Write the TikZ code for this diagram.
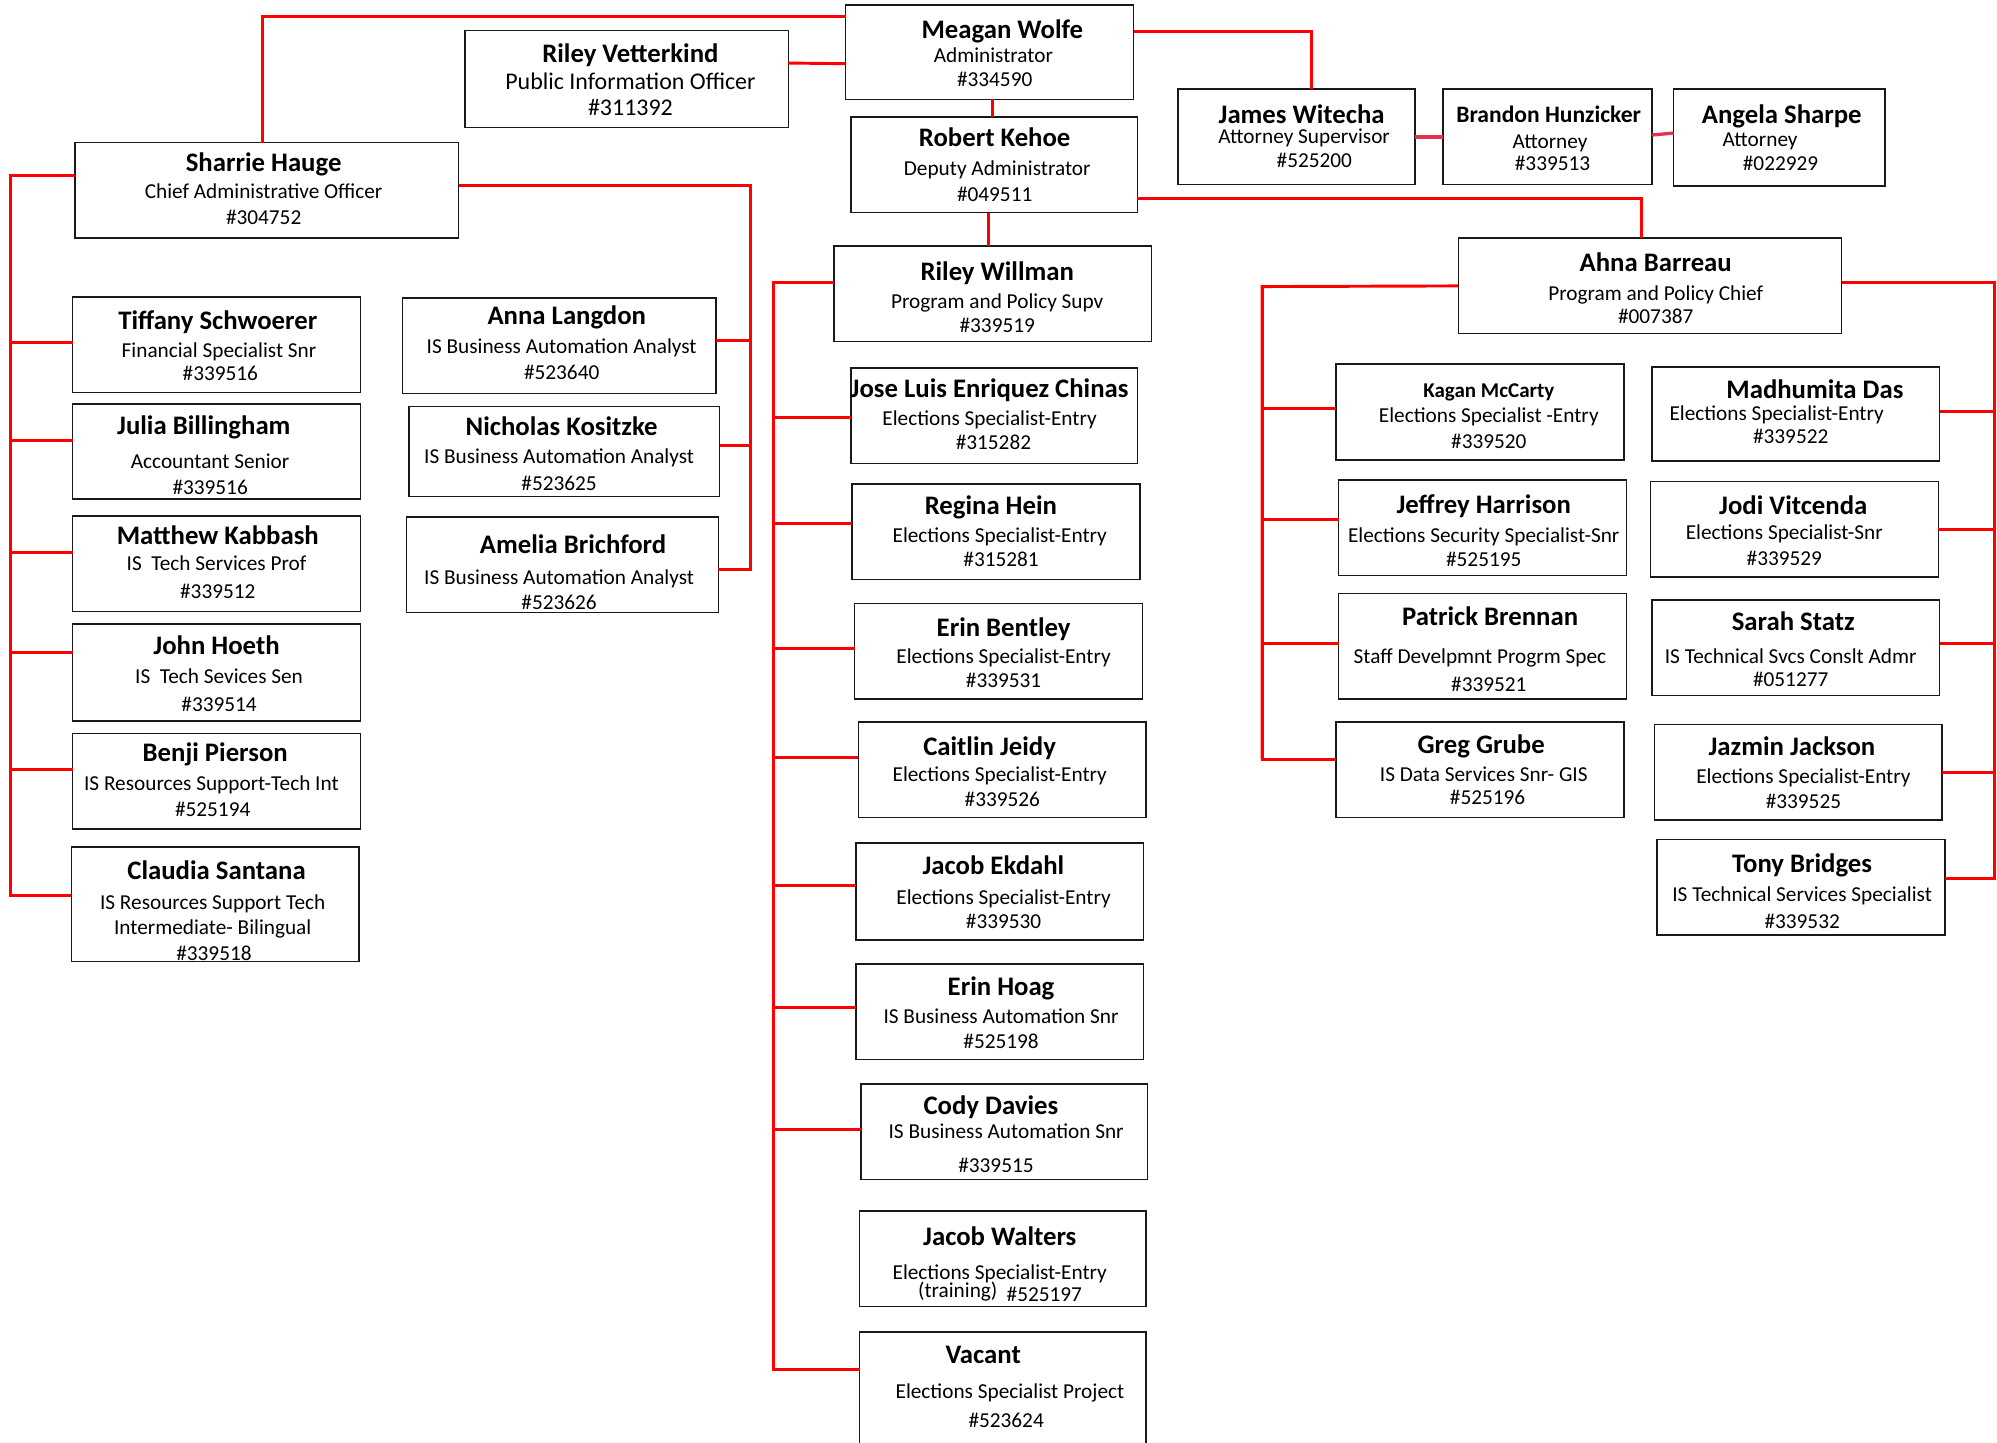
\documentclass[tikz,border=0pt]{standalone}
\usepackage{fontspec}
\setmainfont{Carlito}
\newcommand\obox[5]{\node[bx,minimum width={(#4)-(#2)},minimum height={(#5)-(#3)}] (#1) at ({((#2)+(#4))/2},{((#3)+(#5))/2}) {};}
\newcommand\otext[5]{\node[#1] (#2) at (#3,#4) {#5};}
\begin{document}
\begin{tikzpicture}[x=1pt,y=-1pt,
 bx/.style={draw=black!90,line width=1.2pt,inner sep=0pt,outer sep=0pt},
 txt/.style={anchor=mid,inner sep=0pt,yshift=-4.5pt},
 nm/.style={txt,font=\fontsize{21}{24}\selectfont\bfseries},
 nms/.style={txt,font=\fontsize{18.5}{22}\selectfont\bfseries},
 nmx/.style={txt,font=\fontsize{16.5}{20}\selectfont\bfseries},
 tt/.style={txt,font=\fontsize{16.7}{20}\selectfont},
 tb/.style={txt,font=\fontsize{18.8}{22}\selectfont},
 rl/.style={draw=red,line width=2.3pt},
 pl/.style={draw={rgb,255:red,226;green,50;blue,80},line width=2.6pt}]
\useasboundingbox (0,0) rectangle (1568,1133);
% ---------------- boxes ----------------
\obox{wolfe}{664}{4}{890}{78}
\otext{nm}{wolfe1}{787}{23}{Meagan Wolfe}
\otext{tt}{wolfe2}{780}{42}{Administrator}
\otext{tt}{wolfe3}{781}{61}{\#334590}

\obox{vett}{365}{24}{619}{100}
\otext{nm}{vett1}{495}{42}{Riley Vetterkind}
\otext{tb}{vett2}{495}{63}{Public Information Officer}
\otext{tb}{vett3}{495}{84}{\#311392}

\obox{kehoe}{668}{92}{893}{167}
\otext{nm}{kehoe1}{781}{108}{Robert Kehoe}
\otext{tt}{kehoe2}{783}{131}{Deputy Administrator}
\otext{tt}{kehoe3}{781}{151}{\#049511}

\obox{witecha}{925}{70}{1111}{145}
\otext{nm}{witecha1}{1022}{90}{James Witecha}
\otext{tt}{witecha2}{1024}{106}{Attorney Supervisor}
\otext{tt}{witecha3}{1032}{125}{\#525200}

\obox{brandon}{1133}{70}{1297}{145}
\otext{nms}{brandon1}{1216}{89}{Brandon Hunzicker}
\otext{tt}{brandon2}{1217}{110}{Attorney}
\otext{tt}{brandon3}{1219}{127}{\#339513}

\obox{angela}{1314}{70}{1480}{146}
\otext{nm}{angela1}{1399}{90}{Angela Sharpe}
\otext{tt}{angela2}{1382}{108}{Attorney}
\otext{tt}{angela3}{1398}{127}{\#022929}

\obox{sharrie}{59}{112}{360}{187}
\otext{nm}{sharrie1}{207}{128}{Sharrie Hauge}
\otext{tt}{sharrie2}{207}{149}{Chief Administrative Officer}
\otext{tt}{sharrie3}{207}{169}{\#304752}

\obox{tiffany}{57}{233}{283}{308}
\otext{nm}{tiffany1}{171}{252}{Tiffany Schwoerer}
\otext{tt}{tiffany2}{172}{274}{Financial Specialist Snr}
\otext{tt}{tiffany3}{173}{292}{\#339516}

\obox{julia}{57}{317}{283}{392}
\otext{nm}{julia1}{160}{334}{Julia Billingham}
\otext{tt}{julia2}{165}{361}{Accountant Senior}
\otext{tt}{julia3}{165}{381}{\#339516}

\obox{matthew}{57}{405}{283}{480}
\otext{nm}{matthew1}{171}{421}{Matthew Kabbash}
\otext{tt}{matthew2}{170}{441}{IS\ \ Tech Services Prof}
\otext{tt}{matthew3}{171}{463}{\#339512}

\obox{john}{57}{490}{283}{566}
\otext{nm}{john1}{170}{507}{John Hoeth}
\otext{tt}{john2}{172}{530}{IS\ \ Tech Sevices Sen}
\otext{tt}{john3}{172}{552}{\#339514}

\obox{benji}{57}{576}{283}{651}
\otext{nm}{benji1}{169}{591}{Benji Pierson}
\otext{tt}{benji2}{166}{614}{IS Resources Support-Tech Int}
\otext{tt}{benji3}{167}{634}{\#525194}

\obox{claudia}{56}{665}{282}{755}
\otext{nm}{claudia1}{170}{684}{Claudia Santana}
\otext{tt}{claudia2}{167}{707}{IS Resources Support Tech}
\otext{tt}{claudia3}{167}{727}{Intermediate- Bilingual}
\otext{tt}{claudia4}{168}{747}{\#339518}

\obox{anna}{316}{234}{562}{309}
\otext{nm}{anna1}{445}{248}{Anna Langdon}
\otext{tt}{anna2}{441}{271}{IS Business Automation Analyst}
\otext{tt}{anna3}{441}{291}{\#523640}

\obox{nicholas}{321}{319}{565}{390}
\otext{nm}{nicholas1}{441}{335}{Nicholas Kositzke}
\otext{tt}{nicholas2}{439}{357}{IS Business Automation Analyst}
\otext{tt}{nicholas3}{439}{378}{\#523625}

\obox{amelia}{319}{406}{564}{481}
\otext{nm}{amelia1}{450}{428}{Amelia Brichford}
\otext{tt}{amelia2}{439}{452}{IS Business Automation Analyst}
\otext{tt}{amelia3}{439}{472}{\#523626}

\obox{willman}{655}{193}{904}{268}
\otext{nm}{willman1}{783}{213}{Riley Willman}
\otext{tt}{willman2}{783}{235}{Program and Policy Supv}
\otext{tt}{willman3}{783}{254}{\#339519}

\obox{jose}{668}{289}{893}{364}
\otext{nm}{jose1}{777}{305}{Jose Luis Enriquez Chinas}
\otext{tt}{jose2}{777}{327}{Elections Specialist-Entry}
\otext{tt}{jose3}{780}{346}{\#315282}

\obox{regina}{669}{380}{895}{455}
\otext{nm}{regina1}{778}{397}{Regina Hein}
\otext{tt}{regina2}{785}{419}{Elections Specialist-Entry}
\otext{tt}{regina3}{786}{438}{\#315281}

\obox{bentley}{671}{474}{897}{549}
\otext{nm}{bentley1}{788}{493}{Erin Bentley}
\otext{tt}{bentley2}{788}{514}{Elections Specialist-Entry}
\otext{tt}{bentley3}{788}{533}{\#339531}

\obox{caitlin}{674}{567}{900}{642}
\otext{nm}{caitlin1}{777}{586}{Caitlin Jeidy}
\otext{tt}{caitlin2}{785}{607}{Elections Specialist-Entry}
\otext{tt}{caitlin3}{787}{626}{\#339526}

\obox{ekdahl}{672}{662}{898}{738}
\otext{nm}{ekdahl1}{780}{680}{Jacob Ekdahl}
\otext{tt}{ekdahl2}{788}{703}{Elections Specialist-Entry}
\otext{tt}{ekdahl3}{788}{722}{\#339530}

\obox{hoag}{672}{757}{898}{832}
\otext{nm}{hoag1}{786}{775}{Erin Hoag}
\otext{tt}{hoag2}{786}{797}{IS Business Automation Snr}
\otext{tt}{hoag3}{786}{816}{\#525198}

\obox{cody}{676}{851}{901}{926}
\otext{nm}{cody1}{778}{868}{Cody Davies}
\otext{tt}{cody2}{790}{887}{IS Business Automation Snr}
\otext{tt}{cody3}{782}{914}{\#339515}

\obox{walters}{675}{951}{900}{1026}
\otext{nm}{walters1}{785}{971}{Jacob Walters}
\otext{tt}{walters2}{785}{998}{Elections Specialist-Entry}
\otext{tt}{walters3}{752}{1012}{(training)}
\otext{tt}{walters4}{820}{1015}{\#525197}

\obox{vacant}{675}{1046}{900}{1140}
\otext{nm}{vacant1}{772}{1064}{Vacant}
\otext{tt}{vacant2}{793}{1091}{Elections Specialist Project}
\otext{tt}{vacant3}{790}{1114}{\#523624}

\obox{ahna}{1145}{187}{1446}{262}
\otext{nm}{ahna1}{1300}{206}{Ahna Barreau}
\otext{tt}{ahna2}{1300}{229}{Program and Policy Chief}
\otext{tt}{ahna3}{1300}{247}{\#007387}

\obox{kagan}{1049}{286}{1275}{361}
\otext{nmx}{kagan1}{1169}{305}{Kagan McCarty}
\otext{tt}{kagan2}{1169}{325}{Elections Specialist -Entry}
\otext{tt}{kagan3}{1169}{345}{\#339520}

\obox{madhu}{1297}{288}{1523}{362}
\otext{nm}{madhu1}{1425}{306}{Madhumita Das}
\otext{tt}{madhu2}{1395}{323}{Elections Specialist-Entry}
\otext{tt}{madhu3}{1406}{341}{\#339522}

\obox{jeffrey}{1051}{377}{1277}{452}
\otext{nm}{jeffrey1}{1165}{396}{Jeffrey Harrison}
\otext{tt}{jeffrey2}{1165}{419}{Elections Security Specialist-Snr}
\otext{tt}{jeffrey3}{1165}{438}{\#525195}

\obox{jodi}{1296}{378}{1522}{453}
\otext{nm}{jodi1}{1408}{397}{Jodi Vitcenda}
\otext{tt}{jodi2}{1401}{417}{Elections Specialist-Snr}
\otext{tt}{jodi3}{1401}{437}{\#339529}

\obox{patrick}{1051}{466}{1277}{549}
\otext{nm}{patrick1}{1170}{484}{Patrick Brennan}
\otext{tt}{patrick2}{1162}{514}{Staff Develpmnt Progrm Spec}
\otext{tt}{patrick3}{1169}{536}{\#339521}

\obox{sarah}{1297}{471}{1523}{546}
\otext{nm}{sarah1}{1408}{488}{Sarah Statz}
\otext{tt}{sarah2}{1406}{514}{IS Technical Svcs Conslt Admr}
\otext{tt}{sarah3}{1406}{532}{\#051277}

\obox{greg}{1049}{567}{1275}{642}
\otext{nm}{greg1}{1163}{585}{Greg Grube}
\otext{tt}{greg2}{1165}{607}{IS Data Services Snr- GIS}
\otext{tt}{greg3}{1168}{625}{\#525196}

\obox{jazmin}{1299}{569}{1525}{644}
\otext{nm}{jazmin1}{1407}{586}{Jazmin Jackson}
\otext{tt}{jazmin2}{1416}{608}{Elections Specialist-Entry}
\otext{tt}{jazmin3}{1416}{628}{\#339525}

\obox{tony}{1301}{659}{1527}{734}
\otext{nm}{tony1}{1415}{678}{Tony Bridges}
\otext{tt}{tony2}{1415}{701}{IS Technical Services Specialist}
\otext{tt}{tony3}{1415}{722}{\#339532}

% ---------------- connectors ----------------
\coordinate (topL) at (206,13);
\coordinate (attC) at (1030,25);
\coordinate (ahC) at (1289,156);
\coordinate (busA) at (8,138);
\coordinate (busAb) at (8,703);
\coordinate (busB) at (589,146);
\coordinate (busBb) at (589,447);
\coordinate (busC) at (607,222);
\coordinate (busCb) at (607,1075);
\coordinate (busD) at (991,225);
\coordinate (busDb) at (991,596);
\coordinate (busE) at (1566,222);
\coordinate (busEb) at (1566,690);

\draw[rl] ([yshift=-9pt]wolfe.north west) -- (topL) -- (topL |- sharrie.north);
\draw[rl] ([yshift=12.5pt]vett.east) -- ([yshift=-9pt]wolfe.west);
\draw[rl] ([xshift=-1pt]kehoe.north) -- ([xshift=-1pt]kehoe.north |- wolfe.south);
\draw[rl] ([yshift=16pt]wolfe.east) -- (attC) -- (attC |- witecha.north);
\draw[pl] (witecha.east) -- (brandon.west);
\draw[pl] ([yshift=1.5pt]brandon.east) -- ([yshift=3.5pt]angela.west);
\draw[rl] ([yshift=-26.5pt]kehoe.east) -- (ahC) -- (ahC |- ahna.north);
\draw[rl] ([xshift=-4.5pt]kehoe.south) -- ([xshift=-4.5pt]kehoe.south |- willman.north);

% Sharrie left bus
\draw[rl] ([yshift=11.5pt]sharrie.west) -- (busA) -- (busAb);
\draw[rl] ([yshift=1.5pt]tiffany.west) -| (busA);
\draw[rl] ([yshift=8.5pt]julia.west) -| (busA);
\draw[rl] ([yshift=8.5pt]matthew.west) -| (busA);
\draw[rl] ([yshift=16pt]john.west) -| (busA);
\draw[rl] ([yshift=9.5pt]benji.west) -| (busA);
\draw[rl] ([yshift=7pt]claudia.west) -| (busA);

% Sharrie right bus
\draw[rl] ([yshift=3.5pt]sharrie.east) -- (busB) -- (busBb);
\draw[rl] ([yshift=4pt]anna.east) -| (busB);
\draw[rl] ([yshift=4.5pt]nicholas.east) -| (busB);
\draw[rl] ([yshift=-3.5pt]amelia.east) -| (busB);

% Willman bus
\draw[rl] ([yshift=8.5pt]willman.west) -- (busC) -- (busCb);
\draw[rl] ([yshift=-1.5pt]jose.west) -| (busC);
\draw[rl] ([yshift=6.5pt]regina.west) -| (busC);
\draw[rl] ([yshift=2.5pt]bentley.west) -| (busC);
\draw[rl] ([yshift=9.5pt]caitlin.west) -| (busC);
\draw[rl] ([yshift=5pt]ekdahl.west) -| (busC);
\draw[rl] ([yshift=3.5pt]hoag.west) -| (busC);
\draw[rl] ([yshift=1.5pt]cody.west) -| (busC);
\draw[rl] ([yshift=18pt]vacant.west) -| (busC);

% Ahna left bus
\draw[rl] (ahna.west) -- (busD) -- (busDb);
\draw[rl] ([yshift=2.5pt]kagan.west) -| (busD);
\draw[rl] ([yshift=6.5pt]jeffrey.west) -| (busD);
\draw[rl] ([yshift=2.5pt]patrick.west) -| (busD);
\draw[rl] ([yshift=8.5pt]greg.west) -| (busD);

% Ahna right bus
\draw[rl] ([yshift=2.5pt]ahna.east) -- (busE) -- (busEb);
\draw[rl] ([yshift=2pt]madhu.east) -| (busE);
\draw[rl] (jodi.east) -| (busE);
\draw[rl] ([yshift=3.5pt]sarah.east) -| (busE);
\draw[rl] (jazmin.east) -| (busE);
\draw[rl] ([yshift=6.5pt]tony.east) -| (busE);
\end{tikzpicture}
\end{document}
